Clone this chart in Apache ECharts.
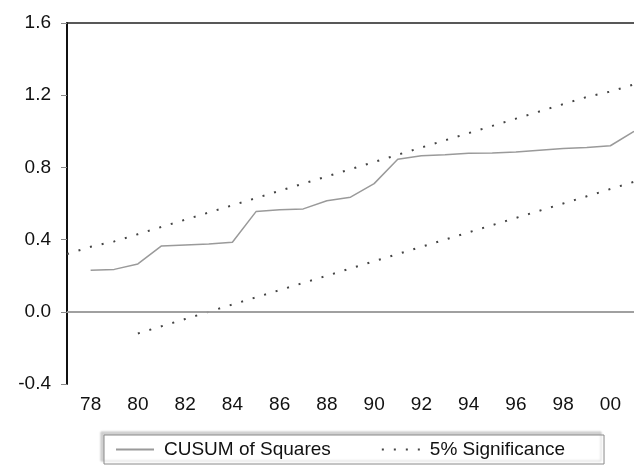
<!DOCTYPE html>
<html>
<head>
<meta charset="utf-8">
<script src="https://cdn.jsdelivr.net/npm/echarts@6/dist/echarts.min.js"></script>
<style>
  html, body { margin: 0; padding: 0; background: #fff; }
  #chart { width: 634px; height: 467px; }
</style>
</head>
<body>
<div id="chart"></div>
<script>
// Annual observations, 1977-2001 (two-digit year labels)
var years = ['77','78','79','80','81','82','83','84','85','86','87','88','89',
             '90','91','92','93','94','95','96','97','98','99','00','01'];

// Cumulative sum of squared recursive residuals
var cusumSq = [null, 0.23, 0.235, 0.265, 0.365, 0.37, 0.375, 0.385, 0.555, 0.565,
               0.57, 0.615, 0.635, 0.71, 0.845, 0.865, 0.87, 0.878, 0.88, 0.885,
               0.895, 0.905, 0.91, 0.92, 1.0];

// 5% significance bounds
var upperBound = [0.32, 0.36, 0.39, 0.43, 0.47, 0.51, 0.55, 0.59, 0.63, 0.67,
                  0.71, 0.75, 0.79, 0.83, 0.87, 0.91, 0.95, 0.99, 1.03, 1.07,
                  1.11, 1.15, 1.19, 1.22, 1.26];
var lowerBound = [null, null, null, -0.12, -0.08, -0.04, 0.0, 0.04, 0.08, 0.12,
                  0.16, 0.20, 0.24, 0.28, 0.32, 0.36, 0.40, 0.44, 0.48, 0.52,
                  0.56, 0.60, 0.64, 0.68, 0.72];

var yMin = -0.4, yMax = 1.6, yStep = 0.4;

var FONT = '"Liberation Sans", Arial, sans-serif';
var chart = echarts.init(document.getElementById('chart'), null, { renderer: 'canvas' });

var cusumName = 'CUSUM of Squares';
var sigName = '5% Significance';
var dotted = [2, 10];

chart.setOption({
  animation: false,
  backgroundColor: '#ffffff',
  textStyle: { fontFamily: FONT },
  grid: { left: 67, right: 0, top: 23, bottom: 83, containLabel: false },
  legend: {
    show: true,
    left: 104,
    top: 435,
    padding: [5, 39, 5, 11],
    itemGap: 50,
    itemWidth: 38,
    itemHeight: 14,
    backgroundColor: '#ffffff',
    borderColor: '#8a8a8a',
    borderWidth: 1,
    shadowColor: 'rgba(0,0,0,0.18)',
    shadowBlur: 2,
    shadowOffsetX: -3,
    shadowOffsetY: -3,
    itemStyle: { opacity: 0 },
    textStyle: { fontFamily: FONT, fontSize: 19, color: '#111', padding: [0, 0, 0, 5] },
    data: [cusumName, sigName]
  },
  xAxis: [
    {
      type: 'category',
      data: years,
      boundaryGap: false,
      position: 'bottom',
      axisLine: { lineStyle: { color: '#333', width: 1.5 } },
      axisTick: { show: false },
      axisLabel: {
        interval: function (index) { return index % 2 === 1; },
        fontFamily: FONT,
        fontSize: 19,
        color: '#111',
        margin: 11
      },
      splitLine: { show: false }
    },
    {
      type: 'category',
      data: years,
      boundaryGap: false,
      position: 'top',
      axisLine: { lineStyle: { color: '#222', width: 1.5 } },
      axisTick: { show: false },
      axisLabel: { show: false },
      splitLine: { show: false }
    }
  ],
  yAxis: {
    type: 'value',
    min: yMin,
    max: yMax,
    interval: yStep,
    axisLine: { show: true, onZero: false, lineStyle: { color: '#111', width: 2 } },
    axisTick: { show: true, inside: false, length: 6, lineStyle: { color: '#888', width: 1 } },
    axisLabel: {
      fontFamily: FONT,
      fontSize: 19,
      color: '#111',
      margin: 16,
      formatter: function (v) { return v.toFixed(1); }
    },
    splitLine: { show: false }
  },
  series: [
    {
      name: cusumName,
      type: 'line',
      data: cusumSq,
      symbol: 'none',
      connectNulls: false,
      lineStyle: { color: '#9a9a9a', width: 1.5 },
      itemStyle: { color: '#9a9a9a' },
      markLine: {
        silent: true,
        symbol: 'none',
        label: { show: false },
        lineStyle: { color: '#b4b4b4', width: 1.5, type: 'solid' },
        data: [{ yAxis: 0 }]
      },
      z: 3
    },
    {
      name: sigName,
      type: 'line',
      data: upperBound,
      symbol: 'none',
      lineStyle: { color: '#444', width: 2, type: dotted },
      itemStyle: { color: '#444' },
      z: 2
    },
    {
      name: sigName,
      type: 'line',
      data: lowerBound,
      symbol: 'none',
      lineStyle: { color: '#444', width: 2, type: dotted },
      itemStyle: { color: '#444' },
      z: 2
    }
  ]
});
</script>
</body>
</html>
